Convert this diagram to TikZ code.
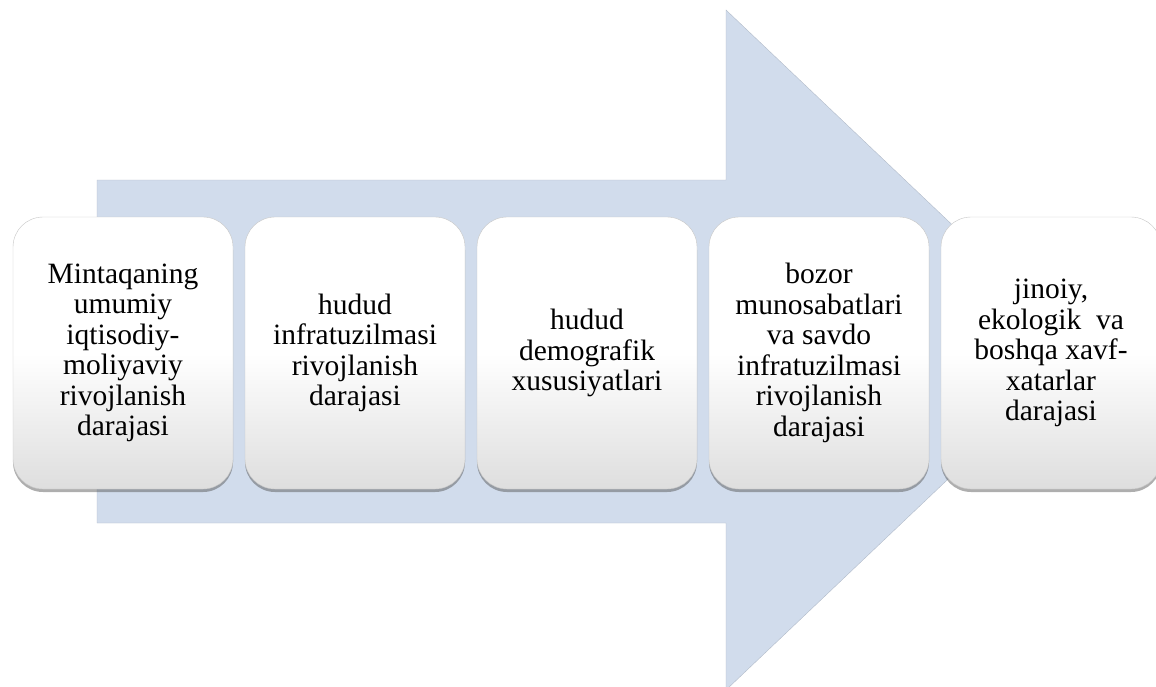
\documentclass[tikz,border=0pt]{standalone}
\usepackage{fontspec}
\IfFontExistsTF{LiberationSerif-Regular.ttf}{\setmainfont{LiberationSerif-Regular.ttf}}{\setmainfont{Liberation Serif}}
\usetikzlibrary{shadows}
\definecolor{arrowblue}{HTML}{D1DCEC}
\tikzstyle{bigarrow} = [fill=arrowblue, draw=arrowblue!85!black, line width=0.4pt]
\tikzstyle{stagebox} = [rectangle, rounded corners=30pt, minimum width=220pt, minimum height=272pt, align=center, draw=gray!45, top color=white, bottom color=black!13, middle color=white, font=\fontsize{29.5}{30.5}\selectfont, drop shadow={shadow xshift=0pt, shadow yshift=-3pt, opacity=0.45, fill=black!70}]

\begin{document}
\begin{tikzpicture}[x=1pt, y=-1pt, node distance=232pt]
        \useasboundingbox (0,0) rectangle (1156,686);
        \clip (0,0) rectangle (1156,686);
        % background arrow
        \fill [bigarrow] (97,180) -- (726,180) -- (726,10) -- (1084,350) -- (726,690) -- (726,523) -- (97,523) -- cycle;

        \node (econ) [stagebox] at (123,353) {Mintaqaning\\umumiy\\iqtisodiy-\\moliyaviy\\rivojlanish\\darajasi};
        \node (infra) [stagebox, right of=econ] {hudud\\infratuzilmasi\\rivojlanish\\darajasi};
        \node (demog) [stagebox, right of=infra] {hudud\\demografik\\xususiyatlari};
        \node (market) [stagebox, right of=demog] {bozor\\munosabatlari\\va savdo\\infratuzilmasi\\rivojlanish\\darajasi};
        \node (risk) [stagebox, right of=market] {jinoiy,\\ekologik\ \ va\\boshqa xavf-\\xatarlar\\darajasi};
    \end{tikzpicture}
\end{document}
